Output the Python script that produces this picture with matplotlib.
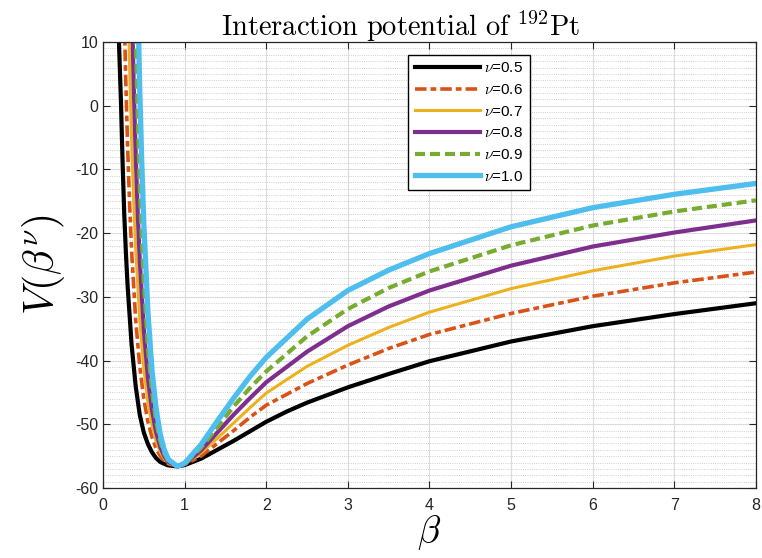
import matplotlib
matplotlib.use('Agg')
import matplotlib.pyplot as plt
from matplotlib.ticker import MultipleLocator

plt.rcParams['font.family'] = 'Liberation Sans'
plt.rcParams['mathtext.fontset'] = 'cm'
plt.rcParams['axes.unicode_minus'] = False

# beta values (x) and potential values, one pair per nu
beta_05 = [0.19, 0.22, 0.24, 0.26, 0.28, 0.3, 0.35, 0.4, 0.45, 0.5, 0.55, 0.6, 0.65, 0.7, 0.75, 0.8, 0.91,
           1.0, 1.2, 1.4, 1.6, 1.8, 2.0, 2.25, 2.5, 3, 3.5, 4, 5, 6, 7, 8]
v_05 = [12.0, 0.5, -9.0, -17.0, -23.0, -28.0, -37.5, -44.0, -48.5, -51.3, -53.1, -54.4, -55.3, -55.9, -56.2, -56.45, -56.6,
        -56.4, -55.4, -54.0, -52.6, -51.1, -49.6, -48.0, -46.6, -44.2, -42.1, -40.1, -37.0, -34.6, -32.7, -31.0]

beta_06 = [0.25, 0.275, 0.3, 0.325, 0.35, 0.4, 0.45, 0.5, 0.55, 0.6, 0.65, 0.7, 0.75, 0.8, 0.91,
           1.0, 1.2, 1.4, 1.6, 1.8, 2.0, 2.5, 3, 3.5, 4, 5, 6, 7, 8]
v_06 = [21.0, 5.8, -5.9, -15.2, -22.7, -33.6, -40.9, -46.0, -49.6, -52.0, -53.8, -54.95, -55.7, -56.2, -56.6,
        -56.3, -55.0, -53.0, -51.0, -48.9, -47.0, -43.6, -40.7, -38.1, -35.9, -32.6, -29.9, -27.8, -26.1]

beta_07 = [0.3, 0.325, 0.35, 0.375, 0.4, 0.45, 0.5, 0.55, 0.6, 0.65, 0.7, 0.75, 0.8, 0.91,
           1.0, 1.2, 1.4, 1.6, 1.8, 2.0, 2.5, 3, 3.5, 4, 5, 6, 7, 8]
v_07 = [21.5, 6.5, -5.3, -14.7, -22.35, -33.6, -41.25, -46.5, -50.1, -52.6, -54.3, -55.4, -56.1, -56.6,
        -56.3, -54.5, -52.2, -49.8, -47.4, -45.1, -40.9, -37.6, -34.8, -32.4, -28.7, -25.9, -23.6, -21.8]

beta_08 = [0.35, 0.375, 0.4, 0.425, 0.45, 0.5, 0.55, 0.6, 0.65, 0.7, 0.75, 0.8, 0.91,
           1.0, 1.2, 1.4, 1.6, 1.8, 2.0, 2.5, 3, 3.5, 4, 5, 6, 7, 8]
v_08 = [17.95, 3.7, -7.6, -16.8, -24.2, -35.2, -42.7, -47.75, -51.2, -53.5, -55.0, -55.9, -56.6,
        -56.25, -54.1, -51.3, -48.5, -45.9, -43.4, -38.6, -34.6, -31.5, -29.0, -25.1, -22.1, -19.9, -18.0]

beta_09 = [0.4, 0.425, 0.45, 0.475, 0.5, 0.55, 0.6, 0.65, 0.7, 0.75, 0.8, 0.91,
           1.0, 1.2, 1.4, 1.6, 1.8, 2.0, 2.5, 3, 3.5, 4, 5, 6, 7, 8]
v_09 = [11.3, -1.8, -12.3, -20.8, -27.7, -38.0, -44.9, -49.5, -52.6, -54.55, -55.75, -56.6,
        -56.2, -53.7, -50.5, -47.2, -44.3, -41.7, -36.2, -31.9, -28.6, -26.0, -21.9, -18.8, -16.6, -14.85]

beta_10 = [0.4, 0.425, 0.45, 0.475, 0.5, 0.55, 0.6, 0.65, 0.7, 0.75, 0.8, 0.91,
           1.0, 1.2, 1.4, 1.6, 1.8, 2.0, 2.5, 3, 3.5, 4, 5, 6, 7, 8]
v_10 = [35.4, 17.1, 2.5, -9.1, -18.5, -32.35, -41.5, -47.5, -51.5, -54.0, -55.5, -56.6,
        -56.1, -53.2, -49.5, -45.9, -42.5, -39.5, -33.5, -29.0, -25.8, -23.2, -19.0, -16.0, -13.9, -12.2]

labels = [r'$\nu$=0.5', r'$\nu$=0.6', r'$\nu$=0.7', r'$\nu$=0.8', r'$\nu$=0.9', r'$\nu$=1.0']

fig = plt.figure(figsize=(7.62, 5.58), dpi=100)
ax = fig.add_axes([0.1352, 0.1254, 0.8568, 0.7993])

ax.plot(beta_05, v_05, '-', color='black', lw=3.0, label=labels[0])
ax.plot(beta_06, v_06, color='#D95319', lw=2.6, dashes=(3.2, 1.1, 1.6, 1.1), label=labels[1])
ax.plot(beta_07, v_07, '-', color='#EDB120', lw=2.2, label=labels[2])
ax.plot(beta_08, v_08, '-', color='#7E2F8E', lw=3.0, label=labels[3])
ax.plot(beta_09, v_09, color='#77AC30', lw=3.0, dashes=(2.4, 1.2), label=labels[4])
ax.plot(beta_10, v_10, '-', color='#4DBEEE', lw=3.8, label=labels[5])

ax.set_xlim(0, 8)
ax.set_ylim(-60, 10)
ax.xaxis.set_major_locator(MultipleLocator(1))
ax.yaxis.set_major_locator(MultipleLocator(10))
ax.yaxis.set_minor_locator(MultipleLocator(1))

ax.grid(which='major', color='#DCDCDC', linewidth=0.8)
ax.grid(which='minor', axis='y', color='#BFBFBF', linestyle=':', linewidth=0.6)
ax.set_axisbelow(True)

ax.tick_params(which='major', direction='in', length=5, width=0.8,
               top=True, right=True, labelsize=11.5, colors='#262626')
ax.tick_params(which='minor', length=0)
ax.tick_params(axis='x', pad=7)
for s in ax.spines.values():
    s.set_color('#262626')
    s.set_linewidth(0.9)

ax.set_xlabel(r'$\beta$', fontsize=27, labelpad=0)
ax.set_ylabel(r'$V(\beta^{\nu})$', fontsize=30, labelpad=6)
ax.set_title(r'$\mathrm{Interaction\ potential\ of\ }^{192}\mathrm{Pt}$', fontsize=20.5,
             pad=4, x=0.455)

leg = ax.legend(loc='upper left', bbox_to_anchor=(0.467, 0.972), fontsize=11,
                handlelength=4.3, frameon=True, fancybox=False,
                borderpad=0.45, labelspacing=0.5, handletextpad=0.25,
                borderaxespad=0)
leg.get_frame().set_edgecolor('black')
leg.get_frame().set_linewidth(1.0)
leg.get_frame().set_alpha(1)

plt.savefig('out.png', dpi=100)
